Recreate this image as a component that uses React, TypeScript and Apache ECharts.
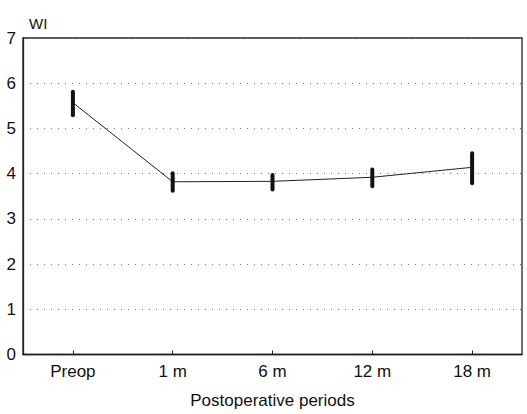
import React, { useEffect, useRef } from "react";
import * as echarts from "echarts";

const categories = ["Preop", "1 m", "6 m", "12 m", "18 m"];
const means = [5.57, 3.82, 3.83, 3.92, 4.14];
const upper = [5.81, 4.01, 3.97, 4.09, 4.45];
const lower = [5.29, 3.62, 3.65, 3.72, 3.79];
const yTicks = [0, 1, 2, 3, 4, 5, 6, 7];

export default function App() {
  const ref = useRef<HTMLDivElement>(null);
  useEffect(() => {
    if (!ref.current) return;
    const chart = echarts.init(ref.current, null, { renderer: "svg" });
    const font = "Liberation Sans, Arial, sans-serif";
    chart.setOption({
      animation: false,
      backgroundColor: "#fff",
      grid: { left: 23, right: 5, top: 38, bottom: 57, show: true, borderColor: "#222", borderWidth: 1.3, backgroundColor: "transparent" },
      title: {
        text: "WI",
        left: 24,
        top: 11,
        textStyle: { fontFamily: font, fontSize: 15, fontWeight: "normal", color: "#111" },
      },
      xAxis: {
        type: "category",
        data: categories,
        boundaryGap: true,
        name: "Postoperative periods",
        nameLocation: "middle",
        nameGap: 46,
        nameTextStyle: { fontFamily: font, fontSize: 17, color: "#111", verticalAlign: "middle" },
        axisLine: { show: true, lineStyle: { color: "#222", width: 1.3 } },
        axisTick: { show: true, inside: true, alignWithLabel: true, length: 4, lineStyle: { color: "#222" } },
        axisLabel: { fontFamily: font, fontSize: 17, color: "#111", margin: 8 },
        splitLine: { show: false },
      },
      yAxis: {
        type: "value",
        min: 0,
        max: 7,
        interval: 1,
        axisLine: { show: true, lineStyle: { color: "#222", width: 1.3 } },
        axisTick: { show: false },
        axisLabel: {
          fontFamily: font,
          fontSize: 17,
          color: "#111",
          margin: 7,
          formatter: (v: number) => (yTicks.includes(v) ? String(v) : ""),
        },
        splitLine: { show: true, lineStyle: { color: "#777", type: [1, 6], width: 1 } },
      },
      series: [
        {
          type: "line",
          data: means,
          symbol: "none",
          lineStyle: { color: "#222", width: 1 },
          z: 3,
        },
        {
          type: "custom",
          data: categories.map((_, i) => [i, lower[i], upper[i]]),
          renderItem: (params: any, api: any) => {
            const i = api.value(0);
            const lo = api.coord([i, api.value(1)]);
            const hi = api.coord([i, api.value(2)]);
            return {
              type: "line",
              shape: { x1: lo[0], y1: lo[1], x2: hi[0], y2: hi[1] },
              style: { stroke: "#111", lineWidth: 4, lineCap: "round" },
              z2: 5,
            };
          },
          z: 4,
        },
      ],
    });
    return () => chart.dispose();
  }, []);
  return <div ref={ref} style={{ position: "fixed", left: 0, top: 0, width: 527, height: 414 }} />;
}
